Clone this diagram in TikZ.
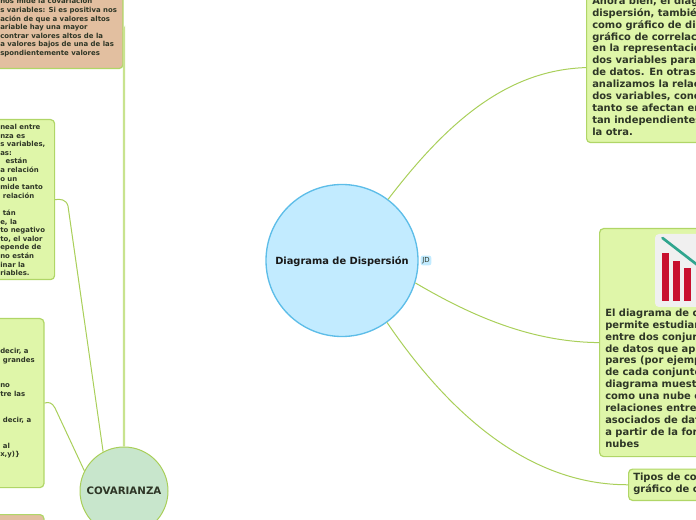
\documentclass[tikz,border=0pt]{standalone}
\usepackage{fontspec}
\setmainfont{DejaVu Sans}
\usetikzlibrary{calc}
\definecolor{leaffill}{HTML}{DFF6A9}
\definecolor{leafline}{HTML}{B0D667}
\definecolor{brownfill}{HTML}{E2BFA0}
\definecolor{wire}{HTML}{A9CF5A}
\definecolor{thickwire}{HTML}{C8E38F}
\definecolor{rootfill}{HTML}{C2EBFF}
\definecolor{rootline}{HTML}{5DBDE8}
\definecolor{covfill}{HTML}{C8E6CC}
\definecolor{inktext}{HTML}{2E3626}
\definecolor{barred}{HTML}{C8102E}
\definecolor{trendline}{HTML}{2FA58E}
\newcommand{\ind}[1]{\hspace*{#1pt}}
\tikzset{
leafbox/.style={draw=leafline, line width=0.9pt, fill=leaffill, rounded corners=3pt, inner sep=0pt, anchor=north west},
bigtext/.style={inner sep=0pt, anchor=north west, align=left, text=inktext, font=\bfseries\fontsize{7.45}{8.93}\selectfont},
smalltext/.style={inner sep=0pt, anchor=north west, align=left, text=inktext, font=\bfseries\fontsize{5.2}{6.45}\selectfont},
wireline/.style={draw=wire, line width=0.75pt},
}
\begin{document}
\begin{tikzpicture}[x=0.75pt,y=-0.75pt]
\useasboundingbox (0,0) rectangle (696,520);
\clip (0,0) rectangle (696,520);
% left side
\node[leafbox, fill=brownfill, minimum width=172pt, minimum height=55.5pt] (trend) at (-107,-6) {};
\node[leafbox, minimum width=105pt, minimum height=120pt] (linear) at (-86,119) {};
\node[leafbox, minimum width=97pt, minimum height=126.75pt] (signs) at (-86,318) {};
\node[leafbox, fill=brownfill, minimum width=97pt, minimum height=60pt] (lower) at (-86,514) {};
\node[smalltext] (trendtext) at (0,-2) {nos mide la covariación\\s variables: Si es positiva nos\\ación de que a valores altos\\ariable hay una mayor\\contrar valores altos de la\\a valores bajos de una de las\\spondientemente valores};
\node[smalltext] (lineartext) at (0,124) {neal entre\\nza es\\s variables,\\as:\\\ind{4}están\\a relación\\o un\\mide tanto\\\ind{2}relación\\\\\ind{2}tán\\e, la\\to negativo\\to, el valor\\epende de\\no están\\inar la\\riables.};
\node[smalltext] (signstext) at (0,348) {decir, a\\\ind{2}grandes\\\\\\no\\tre las\\\\\\\ind{2}decir, a\\\\\\\ind{2}al\\x,y)\}};
% covarianza
\node[circle, draw=wire, line width=0.75pt, fill=covfill, minimum size=66pt, inner sep=0pt, text=inktext, font=\bfseries\fontsize{7.7}{9}\selectfont] (cov) at (124,491) {COVARIANZA};
\draw[draw=thickwire, line width=1.6pt] (cov.90) -- ($(cov.90)+(0,-416)$) -- (trend.east);
\draw[wireline] (linear.east) .. controls (60,199) and (66,199) .. (68,206) -- (cov.118);
\draw[wireline] (signs.east) .. controls (48,402) and (52,402) .. (55,408) -- (cov.153);
% centre
\node[circle, draw=rootline, line width=1pt, fill=rootfill, minimum size=114pt, inner sep=0pt, text=black!90] (root) at (342,260.5) {};
\node[font=\bfseries\fontsize{7.4}{9}\selectfont, text=black!90, inner sep=0pt] (roottext) at (342,261.5) {Diagrama de Dispersión};
\node[fill=rootfill, rounded corners=1.5pt, inner sep=1.2pt, text=inktext, font=\fontsize{5.2}{6}\selectfont] (jd) at (426,260.5) {JD};
% right side
\node[leafbox, minimum width=120pt, minimum height=112.5pt] (ahora) at (586,-8) {};
\node[leafbox, minimum width=110pt, minimum height=171pt] (plot) at (599,228) {};
\node[leafbox, minimum width=90pt, minimum height=23.5pt] (tipos) at (628,468.5) {};
\node[bigtext] (ahoratext) at (592,-3.5) {Ahora bien, el diag\\dispersión, tambié\\como gráfico de di\\gráfico de correlac\\en la representació\\dos variables para\\de datos. En otras\\analizamos la relac\\dos variables, conc\\tanto se afectan er\\tan independientes\\la otra.};
\node[bigtext] (plottext) at (605,308.5) {El diagrama de c\\permite estudiar\\entre dos conjur\\de datos que apa\\pares (por ejemp\\de cada conjunto\\diagrama muest\\como una nube e\\relaciones entre\\asociados de dat\\a partir de la for\\nubes};
\node[bigtext] (tipostext) at (633,472.5) {Tipos de co\\gráfico de c};
\draw[wireline] (root.53) .. controls (445,125) and (505,70) .. (ahora.west);
\draw[wireline] (root.-17) .. controls (470,315) and (530,342) .. (plot.west);
\draw[wireline] (root.-54) .. controls (450,415) and (530,485) .. (tipos.west);
% small picture
\fill[fill=black!6, rounded corners=3pt] (655,234) rectangle (720,307);
\foreach \xa/\ya in {662/253,673/261,684/268,695.5/277}
\fill[fill=barred] (\xa,\ya) rectangle (\xa+7,301);
\draw[draw=trendline, line width=2pt, line cap=round] (662.5,238) -- (700,267);
\end{tikzpicture}
\end{document}
